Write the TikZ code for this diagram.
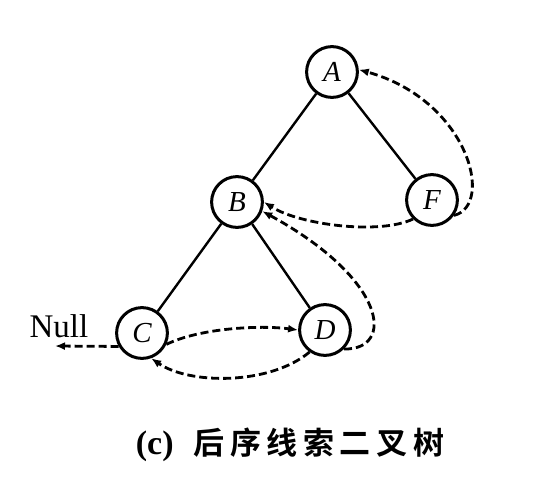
\documentclass[tikz,border=0pt]{standalone}
\usepackage{fontspec}
\setmainfont{Liberation Serif}
\newfontfamily\cjk{Noto Sans CJK SC Bold}[LetterSpace=18]
\usetikzlibrary{positioning,arrows.meta}

\tikzset{
	vertex/.style={circle,draw,line width=1.5pt,minimum size=25.4pt,inner sep=0pt,
		font=\fontsize{14.5}{17}\selectfont\itshape},
	edge/.style={line width=1.2pt},
	thread/.style={line width=1.4pt,dash pattern=on 4pt off 2pt,
		-{Latex[length=5pt,width=4pt]}}
}

\begin{document}
\begin{tikzpicture}[x=0.5pt,y=-0.5pt,on grid]
			\useasboundingbox (0,0) rectangle (558,488);

			\node[vertex](A) at (332,72) {A};
			\node[vertex](B) [below left=65pt and 47.5pt of A] {B};
			\node[vertex](F) [below right=64pt and 50pt of A] {F};
			\node[vertex](C) [below left=65.5pt and 47.5pt of B] {C};
			\node[vertex](D) [below right=64pt and 44pt of B] {D};
			\node(null) at (59,326) [font=\fontsize{16.5}{19}\selectfont] {Null};
			\coordinate(nl) at (55,346);
			\node(cap) at (290,445) {{\fontsize{17}{20}\selectfont\bfseries(c)}\hspace{10pt}{\cjk\fontsize{15.5}{18}\selectfont 后序线索二叉树}};

			\draw[edge](A) -- (B);
			\draw[edge](A) -- (F);
			\draw[edge](B) -- (C);
			\draw[edge](B) -- (D);

			\draw[thread](F.-35) .. controls (495,205) and (468,100) .. (A.5);
			\draw[thread](F.-135) .. controls (380,235) and (300,225) .. (B.0);
			\draw[thread](D.-45) .. controls (395,350) and (388,280) .. (B.-20);
			\draw[thread](C.-25) .. controls (200,328) and (260,325) .. (D.180);
			\draw[thread](D.-125) .. controls (270,385) and (190,385) .. (C.-70);
			\draw[thread](C.-150) -- (nl);
		\end{tikzpicture}
\end{document}
